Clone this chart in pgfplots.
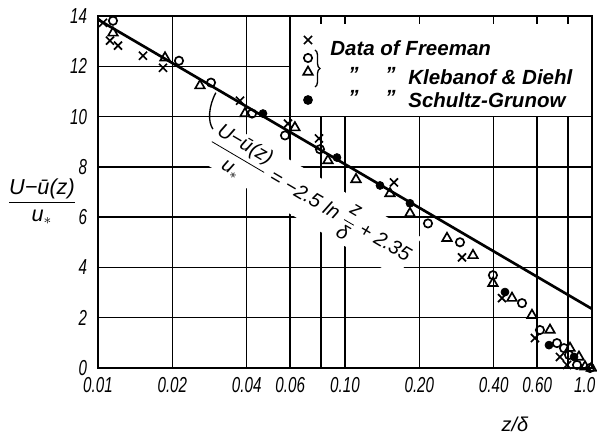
\documentclass[border=0pt]{standalone}
\usepackage{fontspec}
\setmainfont{Liberation Sans}
\newfontfamily\condfont[FakeStretch=0.7]{Liberation Sans}
\usepackage{amsmath}
\usepackage{pgfplots}
\pgfplotsset{compat=1.18}
\usetikzlibrary{decorations.pathreplacing}
\def\pxu{0.6pt}
% legend key: x, y in px from the axis origin, mark, size
\newcommand\legmark[4]{%
  \begin{scope}[shift={(#1*\pxu,#2*\pxu)}, line width=1pt]
    \pgfsetplotmarksize{#4}\pgfuseplotmark{#3}
  \end{scope}}

\begin{document}
\begin{tikzpicture}
\begin{axis}[
    scale only axis,
    width=296.4pt, height=211.2pt,
    xmode=log,
    xmin=0.01, xmax=1,
    ymin=0, ymax=14,
    xtick={0.01,0.02,0.04,0.06,0.08,0.1,0.2,0.4,0.6,0.8,1},
    xticklabels={0.01,0.02,0.04,0.06,,0.10,0.20,0.40,0.60,,\makebox[4pt][r]{1.0}},
    ytick={0,2,4,6,8,10,12,14},
    yticklabels={0,2,4,6,8,10,12,14},
    xminorticks=false, yminorticks=false,
    grid=major,
    major grid style={line width=0.9pt, black},
    axis line style={line width=1.6pt},
    major tick length=0pt,
    ticklabel style={font={\condfont\fontsize{13}{15}\selectfont\itshape}},
    xticklabel style={yshift=-2pt},
    yticklabel style={xshift=-3pt},
    every axis x label/.style={at={(axis description cs:0.844,0)}, anchor=center, yshift=-34pt},
    every axis y label/.style={at={(axis description cs:0,0.473)}, anchor=center, xshift=-33.6pt},
    xlabel={\fontsize{12}{14}\selectfont\itshape z/δ},
    ylabel={\fontsize{13}{15}\selectfont\itshape $\dfrac{\text{U−ū(z)}}{\text{u}_{*}}$},
    clip=false,
]
% legend area
\fill[white] (axis cs:0.06,10) rectangle (axis cs:1,13.68);
\draw[line width=0.9pt] (axis cs:0.06,13.68) -- (axis cs:0.06,10) -- (axis cs:1,10);
\draw[line width=1.6pt] (axis cs:1,9.9) -- (axis cs:1,14);

% equation along the line
\node[rotate=-30.5, fill=white, inner sep=0.5pt,
      font=\fontsize{12}{14}\selectfont\itshape]
  at (axis cs:0.0720,6.74)
  {$\dfrac{\text{U−ū(z)}}{\text{u}_{*}}$ = −2.5 ln $\dfrac{\text{z}}{\text{δ}}$ + 2.35};
\draw[line width=0.8pt] (axis cs:0.0300,10.95) .. controls (axis cs:0.0280,10.4)
  and (axis cs:0.0278,9.8) .. (axis cs:0.0292,9.5);

% U - u(z) over u* = -2.5 ln(z/delta) + 2.35
\addplot[line width=1.6pt] coordinates {(0.01,13.86) (1,2.35)};

% Freeman
\addplot[only marks, mark=x, mark size=3.4pt, mark options={line width=1pt}]
  coordinates {
  (0.01048,13.73) (0.01118,13.02) (0.01205,12.82) (0.01521,12.42) (0.01833,11.94)
  (0.03758,10.63) (0.05878,9.72) (0.0785,9.13) (0.1579,7.38) (0.2976,4.40)
  (0.4323,2.78) (0.5875,1.19) (0.7415,0.44) (0.7925,0.12)
  };
% Klebanof & Diehl, circles
\addplot[only marks, mark=o, mark size=2.5pt, mark options={line width=1pt}]
  coordinates {
  (0.0115,13.81) (0.02128,12.22) (0.02868,11.35) (0.04203,10.12) (0.05717,9.25)
  (0.0792,8.70) (0.2168,5.75) (0.2921,5.00) (0.3973,3.69) (0.5209,2.58)
  (0.6156,1.51) (0.7213,0.99) (0.7705,0.79) (0.807,0.52) (0.8697,0.12) (0.982,0.0)
  };
% Klebanof & Diehl, triangles
\addplot[only marks, mark=triangle, mark size=3.3pt, mark options={line width=1pt}]
  coordinates {
  (0.0115,13.33) (0.01868,12.34) (0.02588,11.23) (0.03937,10.12) (0.0627,9.56)
  (0.0853,8.25) (0.1108,7.50) (0.1521,6.94) (0.1833,6.15) (0.2588,5.16)
  (0.3298,4.48) (0.3973,3.37) (0.4744,2.78) (0.5715,2.10) (0.6761,1.51)
  (0.8147,0.79) (0.8857,0.44) (0.9373,0.05) (0.995,0.0)
  };
% Schultz-Grunow
\addplot[only marks, mark=*, mark size=2.4pt, mark options={fill=black}]
  coordinates {
  (0.04656,10.12) (0.0928,8.37) (0.1386,7.26) (0.1833,6.55) (0.4444,3.02)
  (0.6698,0.91) (0.8458,0.44)
  };
\end{axis}

% legend
\legmark{210}{328}{x}{3.4pt}
\legmark{210}{310}{o}{2.5pt}
\legmark{210}{296}{triangle}{3.3pt}
\legmark{210}{268}{*}{2.4pt}
\draw[decorate, decoration={brace, amplitude=3pt}, line width=0.8pt]
  (217*\pxu,318*\pxu) -- (217*\pxu,281*\pxu);
\begin{scope}[every node/.style={inner sep=0pt, anchor=west,
    font=\fontsize{12.3}{14}\selectfont\bfseries\itshape}]
  \node at (232*\pxu,320*\pxu) {Data of Freeman};
  \node at (250*\pxu,294*\pxu) {”};
  \node at (287*\pxu,294*\pxu) {”};
  \node at (310*\pxu,291*\pxu) {Klebanof \& Diehl};
  \node at (250*\pxu,271*\pxu) {”};
  \node at (287*\pxu,271*\pxu) {”};
  \node at (310*\pxu,268*\pxu) {Schultz-Grunow};
\end{scope}

\pgfresetboundingbox
\path[use as bounding box] (-98*\pxu,-74*\pxu) rectangle (499*\pxu,368*\pxu);
\end{tikzpicture}
\end{document}
